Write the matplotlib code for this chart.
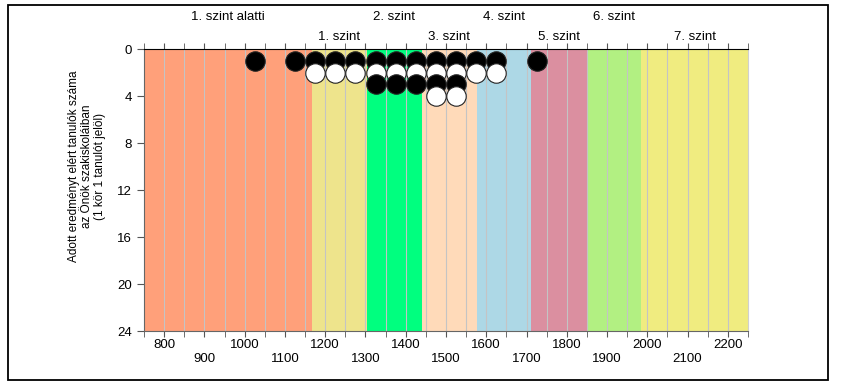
import matplotlib.pyplot as plt
from matplotlib.patches import Rectangle
from matplotlib.transforms import blended_transform_factory

# Score bins (bin centres) and how many students fell into each one
bin_centres = [1025, 1125, 1175, 1225, 1275, 1325, 1375, 1425, 1475, 1525, 1575, 1625, 1725]
student_counts = [1, 1, 2, 2, 2, 3, 3, 3, 4, 4, 2, 2, 1]

# Proficiency levels: lower edge of each band on the score scale
level_names = ['1. szint alatti', '1. szint', '2. szint', '3. szint',
               '4. szint', '5. szint', '6. szint', '7. szint']
level_edges = [750, 1167, 1303, 1440, 1576, 1712, 1849, 1985, 2250]
level_colors = ['#FFA07A', '#EEE48C', '#00FF7F', '#FFDAB9',
                '#ADD8E6', '#DB8FA0', '#B2F082', '#F0EC80']

x_ticks = list(range(800, 2201, 100))
y_ticks = [0, 4, 8, 12, 16, 20, 24]

plt.rcParams['font.family'] = ['Liberation Sans', 'DejaVu Sans']
plt.rcParams['font.size'] = 9.5

fig = plt.figure(figsize=(8.43, 3.92), dpi=100)
ax = fig.add_axes([0.1708, 0.1556, 0.7165, 0.7194])

# coloured level bands
for i, name in enumerate(level_names):
    ax.axvspan(level_edges[i], level_edges[i + 1], color=level_colors[i], lw=0, zorder=0)

# thin grey grid every 50 points
for x in range(800, 2250, 50):
    ax.axvline(x, color='#C4C4C4', lw=0.8, zorder=1)

# one circle per student, alternating black / white so stacked ones stay readable
for col, n in zip(bin_centres, student_counts):
    for k in range(1, n + 1):
        face = 'black' if k % 2 == 1 else 'white'
        ax.plot(col, k, 'o', ms=14, mfc=face, mec='#222222', mew=0.8, zorder=2 + k)

ax.set_xlim(level_edges[0], level_edges[-1])
ax.set_ylim(24, 0)

# bottom ticks: staggered labels, ticks every 50
ax.set_xticks(x_ticks)
ax.set_xticklabels([str(t) if (t // 100) % 2 == 0 else '\n' + str(t) for t in x_ticks])
ax.set_xticks(range(750, 2251, 50), minor=True)
ax.tick_params(axis='x', which='both', length=4, direction='out', color='#555555',
               top=True, bottom=True, labeltop=False, pad=2)
ax.set_yticks(y_ticks)
ax.tick_params(axis='y', length=5, color='#555555')

for side in ['left', 'bottom']:
    ax.spines[side].set_color('#666666')
ax.spines['top'].set_color('black')
ax.spines['right'].set_color('#D0D0D0')

# level names above the plot, alternating between two rows
trans = blended_transform_factory(ax.transData, ax.transAxes)
for i, name in enumerate(level_names):
    centre = (level_edges[i] + level_edges[i + 1]) / 2
    y = 1.113 if i % 2 == 0 else 1.043
    ax.text(centre, y, name, transform=trans, ha='center', va='center')

fig.text(0.103, 0.5765,
         'Adott eredményt elért tanulók száma\naz Önök szakiskoláiban\n(1 kör 1 tanulót jelöl)',
         rotation=90, ha='center', va='center', multialignment='center',
         fontsize=8.5, linespacing=1.1)

# outer frame
fig.patches.append(Rectangle((0.0091, 0.0306), 0.9727, 0.9566, transform=fig.transFigure,
                             fill=False, ec='black', lw=1.3))

plt.savefig('out.png', dpi=100)
plt.close()
